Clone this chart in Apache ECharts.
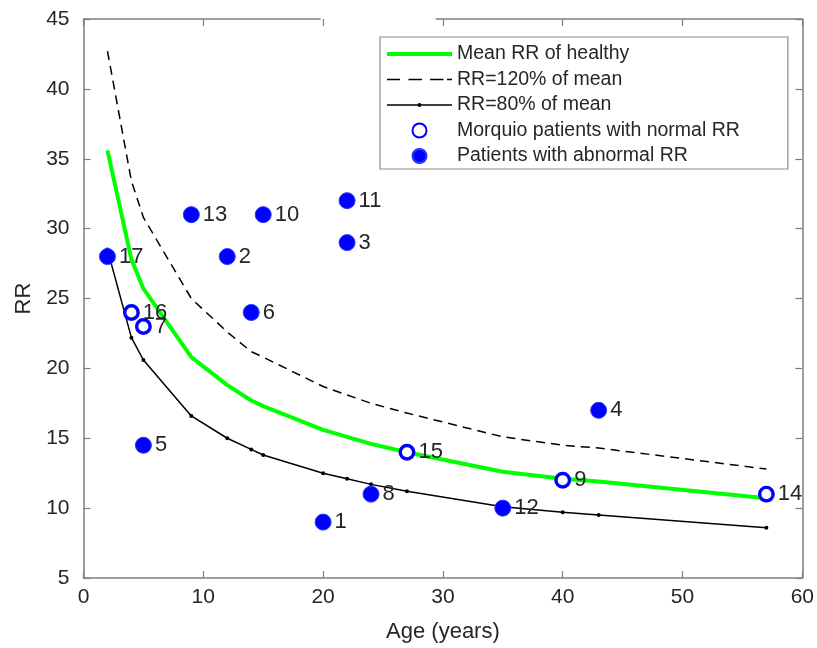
<!DOCTYPE html>
<html>
<head>
<meta charset="utf-8">
<script src="https://cdn.jsdelivr.net/npm/echarts@6/dist/echarts.min.js"></script>
<style>
  html, body { margin: 0; padding: 0; background: #ffffff; }
  #chart { width: 817px; height: 648px; }
</style>
</head>
<body>
<div id="chart"></div>
<script>
// Healthy reference curve, sampled at the patients' ages
const refAges   = [2, 4, 5, 9, 12, 14, 15, 20, 22, 24, 27, 35, 40, 43, 57];
const meanRR    = [35.6, 27.8, 25.7, 20.8, 18.8, 17.7, 17.3, 15.6, 15.1, 14.6, 14.0, 12.6, 12.1, 11.9, 10.7];
const upperRR   = [42.7, 33.4, 30.8, 25.0, 22.6, 21.2, 20.8, 18.7, 18.1, 17.5, 16.8, 15.1, 14.5, 14.3, 12.8];
const lowerRR   = [28.5, 22.2, 20.6, 16.6, 15.0, 14.2, 13.8, 12.5, 12.1, 11.7, 11.2, 10.1, 9.7, 9.5, 8.6];

// Patients (id, age, measured RR, 1 = within normal range)
const patientIds  = [1, 2, 3, 4, 5, 6, 7, 8, 9, 10, 11, 12, 13, 14, 15, 16, 17];
const patientAges = [20, 12, 22, 43, 5, 14, 5, 24, 40, 15, 22, 35, 9, 57, 27, 4, 2];
const patientRR   = [9, 28, 29, 17, 14.5, 24, 23, 11, 12, 31, 32, 10, 31, 11, 14, 24, 28];
const normalFlag  = [0, 0, 0, 0, 0, 0, 1, 0, 1, 0, 0, 0, 0, 1, 1, 1, 0];

const xTicks = [0, 10, 20, 30, 40, 50, 60];
const yTicks = [5, 10, 15, 20, 25, 30, 35, 40, 45];

const seriesNames = [
  'Mean RR of healthy',
  'RR=120% of mean',
  'RR=80% of mean',
  'Morquio patients with normal RR',
  'Patients with abnormal RR'
];

const FONT = '"Liberation Sans", Arial, Helvetica, sans-serif';
const AXIS_COLOR = '#7f7f7f';
const TEXT_COLOR = '#262626';

// Legend glyphs for the three curves (solid thick, dashed, solid with dot)
const ICON_SOLID  = 'path://M0,0H65V4H0Z';
const ICON_DASHED = 'path://M0,0H13V1.6H0Z M21.5,0H35V1.6H21.5Z M43,0H56.5V1.6H43Z M60,0H65V1.6H60Z';
const ICON_DOTTED = 'path://M0,1.2H65V2.8H0Z M32.5,0A2,2 0 1,1 32.49,0Z';

const pairs = (xs, ys) => xs.map((x, i) => [x, ys[i]]);
const normalPts = [], abnormalPts = [];
patientIds.forEach((id, i) => {
  const pt = { value: [patientAges[i], patientRR[i]], name: String(id) };
  (normalFlag[i] ? normalPts : abnormalPts).push(pt);
});

const pointLabel = {
  show: true,
  position: 'right',
  distance: 3,
  formatter: p => p.name,
  color: TEXT_COLOR,
  fontSize: 22,
  fontFamily: FONT
};

const baseAxis = {
  type: 'value',
  splitLine: { show: false },
  axisLine: { show: true, onZero: false, lineStyle: { color: AXIS_COLOR, width: 1.5 } },
  axisTick: { show: true, inside: true, length: 7, lineStyle: { color: AXIS_COLOR, width: 1.2 } }
};

const chart = echarts.init(document.getElementById('chart'), null, { renderer: 'canvas' });

chart.setOption({
  animation: false,
  backgroundColor: '#ffffff',
  grid: { left: 83.5, right: 13, top: 19, bottom: 69 },
  legend: {
    orient: 'vertical',
    left: 380,
    top: 37,
    padding: [7, 48, 3, 7],
    itemWidth: 65,
    itemHeight: 14,
    itemGap: 5.5,
    selectedMode: false,
    borderColor: '#8a8a8a',
    borderWidth: 1.2,
    backgroundColor: '#ffffff',
    textStyle: { color: TEXT_COLOR, fontSize: 19.5, fontFamily: FONT, lineHeight: 20 },
    data: [
      { name: seriesNames[0], icon: ICON_SOLID, itemStyle: { color: '#00ff00', borderWidth: 0 } },
      { name: seriesNames[1], icon: ICON_DASHED, itemStyle: { color: '#000000', borderWidth: 0 } },
      { name: seriesNames[2], icon: ICON_DOTTED, itemStyle: { color: '#000000', borderWidth: 0 } },
      { name: seriesNames[3] },
      { name: seriesNames[4] }
    ]
  },
  xAxis: [
    Object.assign({}, baseAxis, {
      min: xTicks[0], max: xTicks[xTicks.length - 1], interval: 10,
      position: 'bottom',
      name: 'Age (years)', nameLocation: 'middle', nameGap: 43,
      nameTextStyle: { color: TEXT_COLOR, fontSize: 22, fontFamily: FONT },
      axisLabel: { color: TEXT_COLOR, fontSize: 21, fontFamily: FONT, margin: 9 }
    }),
    Object.assign({}, baseAxis, {
      min: xTicks[0], max: xTicks[xTicks.length - 1], interval: 10,
      position: 'top',
      axisLine: { show: false },
      axisLabel: { show: false }
    })
  ],
  yAxis: [
    Object.assign({}, baseAxis, {
      min: yTicks[0], max: yTicks[yTicks.length - 1], interval: 5,
      position: 'left',
      name: 'RR', nameLocation: 'middle', nameGap: 44,
      nameTextStyle: { color: TEXT_COLOR, fontSize: 22, fontFamily: FONT },
      axisLabel: { color: TEXT_COLOR, fontSize: 21, fontFamily: FONT, margin: 14 }
    }),
    Object.assign({}, baseAxis, {
      min: yTicks[0], max: yTicks[yTicks.length - 1], interval: 5,
      position: 'right',
      axisLabel: { show: false }
    })
  ],
  series: [
    {
      name: seriesNames[0], type: 'line', data: pairs(refAges, meanRR),
      symbol: 'none', color: '#00ff00',
      lineStyle: { color: '#00ff00', width: 4 }, z: 2
    },
    {
      name: seriesNames[1], type: 'line', data: pairs(refAges, upperRR),
      symbol: 'none', color: '#000000',
      lineStyle: { color: '#000000', width: 1.5, type: [9, 6] }, z: 2
    },
    {
      name: seriesNames[2], type: 'line', data: pairs(refAges, lowerRR),
      symbol: 'circle', symbolSize: 4, showSymbol: true, color: '#000000',
      itemStyle: { color: '#000000' },
      lineStyle: { color: '#000000', width: 1.5 }, z: 2
    },
    {
      name: seriesNames[3], type: 'scatter', data: normalPts,
      symbol: 'circle', symbolSize: 13.5,
      itemStyle: { color: '#ffffff', borderColor: '#0000ff', borderWidth: 3.4, opacity: 1 },
      label: pointLabel, z: 3
    },
    {
      name: seriesNames[4], type: 'scatter', data: abnormalPts,
      symbol: 'circle', symbolSize: 16,
      itemStyle: { color: '#0000ff', borderColor: '#2238ff', borderWidth: 1, opacity: 1 },
      label: pointLabel, z: 3
    }
  ]
});

// Top frame line of the axes box, drawn in two pieces
const yTop = chart.convertToPixel({ yAxisIndex: 0 }, yTicks[yTicks.length - 1]);
const segs = [[0, 19.8], [29.4, 60]].map(([a, b]) => ({
  type: 'line',
  z: 10,
  shape: {
    x1: chart.convertToPixel({ xAxisIndex: 0 }, a), y1: yTop,
    x2: chart.convertToPixel({ xAxisIndex: 0 }, b), y2: yTop
  },
  style: { stroke: AXIS_COLOR, lineWidth: 1.5 }
}));
chart.setOption({ graphic: segs });
</script>
</body>
</html>
